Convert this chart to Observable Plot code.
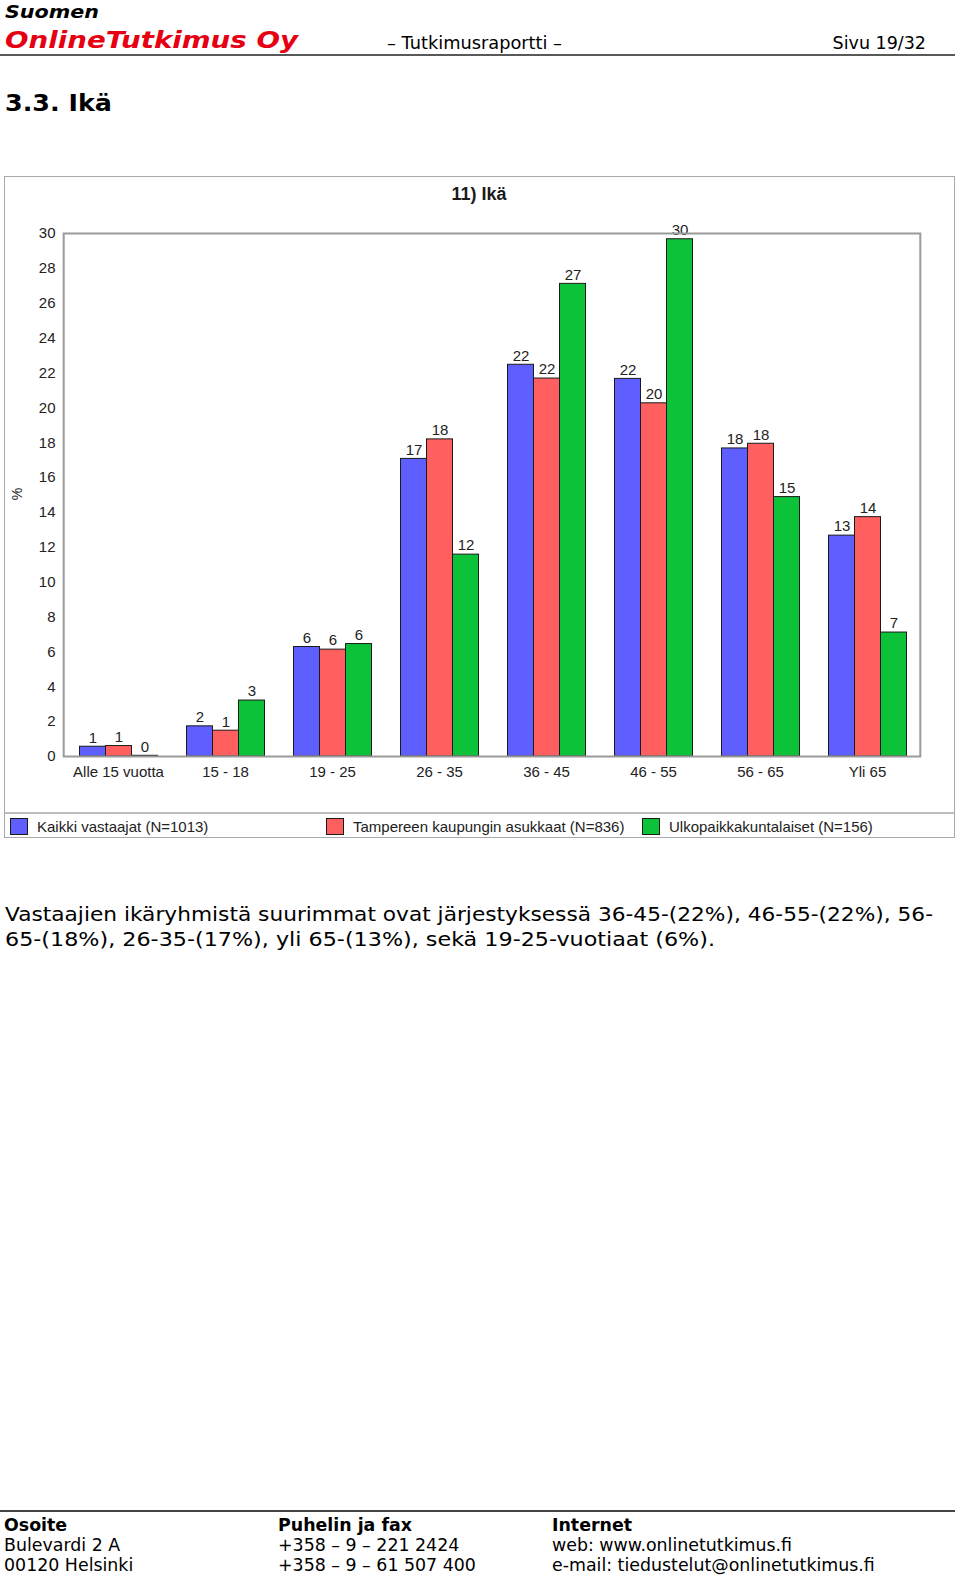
<!DOCTYPE html>
<html>
<head>
<meta charset="utf-8">
<script src="https://cdn.jsdelivr.net/npm/d3@7"></script>
<script src="https://cdn.jsdelivr.net/npm/@observablehq/plot@0.6"></script>
<style>
  html, body { margin: 0; padding: 0; background: #fff; }
  #page { position: relative; width: 960px; height: 1576px; overflow: hidden; }
  #static { position: absolute; left: 0; top: 0; }
  #chartbox { position: absolute; left: 4px; top: 176px; width: 951px; height: 662px;
    border: 1px solid #a9a9a9; box-sizing: border-box; background: #fff; }
  #plot { position: absolute; left: 0; top: 0; }
  #overlay { position: absolute; left: 0; top: 0; pointer-events: none; }
</style>
</head>
<body>
<div id="page">
  <svg id="static" width="960" height="1576" font-family="'DejaVu Sans', Verdana, sans-serif"></svg>
  <div id="chartbox">
    <div id="plot"></div>
    <svg id="overlay" width="949" height="660" font-family="'Liberation Sans', Arial, sans-serif"></svg>
  </div>
</div>
<script>
// ---------- data ----------
const chartTitle = "11) Ikä";
const yAxisLabel = "%";
const categories = ["Alle 15 vuotta", "15 - 18", "19 - 25", "26 - 35", "36 - 45", "46 - 55", "56 - 65", "Yli 65"];
const seriesNames = ["Kaikki vastaajat (N=1013)", "Tampereen kaupungin asukkaat (N=836)", "Ulkopaikkakuntalaiset (N=156)"];
const seriesColors = ["#5f5fff", "#ff5f5f", "#0cc238"];
const kaikkiValues  = [0.56, 1.73, 6.28, 17.07, 22.47, 21.66, 17.67, 12.67];
const tampereValues = [0.60, 1.48, 6.13, 18.19, 21.68, 20.26, 17.94, 13.73];
const ulkoValues    = [0.04, 3.21, 6.45, 11.58, 27.11, 29.67, 14.88, 7.11];
const kaikkiLabels  = ["1", "2", "6", "17", "22", "22", "18", "13"];
const tampereLabels = ["1", "1", "6", "18", "22", "20", "18", "14"];
const ulkoLabels    = ["0", "3", "6", "12", "27", "30", "15", "7"];
const yTicks = [0, 2, 4, 6, 8, 10, 12, 14, 16, 18, 20, 22, 24, 26, 28, 30];

const headerSmall = "Suomen";
const headerBrand = "OnlineTutkimus Oy";
const headerMiddle = "– Tutkimusraportti –";
const headerPage = "Sivu 19/32";
const sectionTitle = "3.3. Ikä";
const paragraphLines = [
  "Vastaajien ikäryhmistä suurimmat ovat järjestyksessä 36-45-(22%), 46-55-(22%), 56-",
  "65-(18%), 26-35-(17%), yli 65-(13%), sekä 19-25-vuotiaat (6%)."
];
const footerColumns = [
  ["Osoite", "Bulevardi 2 A", "00120 Helsinki"],
  ["Puhelin ja fax", "+358 – 9 – 221 2424", "+358 – 9 – 61 507 400"],
  ["Internet", "web: www.onlinetutkimus.fi", "e-mail: tiedustelut@onlinetutkimus.fi"]
];

// ---------- table ----------
const seriesValues = [kaikkiValues, tampereValues, ulkoValues];
const seriesLabels = [kaikkiLabels, tampereLabels, ulkoLabels];
const rows = [];
categories.forEach((cat, i) => {
  seriesNames.forEach((s, j) => {
    rows.push({cat, series: s, value: seriesValues[j][i], label: seriesLabels[j][i]});
  });
});

// ---------- chart ----------
const chart = Plot.plot({
  width: 949,
  height: 632,
  marginLeft: 72.5,
  marginRight: 46,
  marginTop: 56,
  marginBottom: 53,
  style: {fontFamily: "'Liberation Sans', Arial, sans-serif", fontSize: "15px", color: "#222", background: "transparent", overflow: "visible"},
  fx: {domain: categories, paddingInner: 0.25, paddingOuter: 0, label: null, axis: "bottom", tickSize: 0, tickPadding: 10},
  x: {domain: seriesNames, axis: null, padding: 0},
  y: {domain: [0, 30], ticks: yTicks, tickSize: 0, tickPadding: 23, label: null, tickFormat: d => String(d)},
  color: {domain: seriesNames, range: seriesColors},
  marks: [
    Plot.barY(rows, {fx: "cat", x: "series", y: "value", fill: "series", stroke: "#1a1a1a", strokeWidth: 1}),
    Plot.text(rows, {fx: "cat", x: "series", y: "value", text: "label", dy: -9, fontSize: 15, fill: "#222"}),
    Plot.frame({facet: "super", stroke: "#9a9a9a", strokeWidth: 2, insetLeft: -14.8, insetRight: -12.8})
  ]
});
document.getElementById("plot").appendChild(chart);

// ---------- chart overlay: title, % label, legend ----------
const ov = d3.select("#overlay");
ov.append("text").attr("x", 474).attr("y", 23).attr("text-anchor", "middle")
  .attr("font-weight", "bold").attr("font-size", 18).attr("fill", "#1a1a1a").text(chartTitle);
ov.append("text").attr("transform", "translate(17,317) rotate(-90)").attr("text-anchor", "middle")
  .attr("font-size", 14).attr("fill", "#222").text(yAxisLabel);
ov.append("line").attr("x1", 0).attr("x2", 949).attr("y1", 636).attr("y2", 636)
  .attr("stroke", "#a9a9a9").attr("stroke-width", 1.5);
const legendX = [5, 321, 637];
seriesNames.forEach((s, j) => {
  const g = ov.append("g").attr("transform", `translate(${legendX[j]},641)`);
  g.append("rect").attr("x", 0.5).attr("y", 0.5).attr("width", 17).attr("height", 16)
    .attr("fill", seriesColors[j]).attr("stroke", "#1a1a1a").attr("stroke-width", 1);
  g.append("text").attr("x", 27).attr("y", 13.5).attr("font-size", 15).attr("fill", "#222").text(s);
});

// ---------- page texts ----------
const st = d3.select("#static");
function txt(str, x, y, opts = {}) {
  const t = st.append("text").attr("x", x).attr("y", y)
    .attr("font-size", opts.size || 17).attr("fill", opts.fill || "#000").text(str);
  if (opts.bold) t.attr("font-weight", "bold");
  if (opts.italic) t.attr("font-style", "italic");
  if (opts.anchor) t.attr("text-anchor", opts.anchor);
  if (opts.len) t.attr("textLength", opts.len).attr("lengthAdjust", "spacingAndGlyphs");
  return t;
}
txt(headerSmall, 5, 17.5, {size: 18, bold: true, italic: true, len: 94});
txt(headerBrand, 5, 48.3, {size: 23, bold: true, italic: true, fill: "#e60012", len: 293});
txt(headerMiddle, 387, 49, {size: 17, len: 175});
txt(headerPage, 926, 49, {size: 17.5, anchor: "end"});
st.append("line").attr("x1", 0).attr("x2", 955).attr("y1", 55).attr("y2", 55)
  .attr("stroke", "#222").attr("stroke-width", 1.5);
txt(sectionTitle, 5, 111, {size: 23, bold: true, len: 107});
txt(paragraphLines[0], 5, 920.5, {size: 19, len: 928});
txt(paragraphLines[1], 5, 945.5, {size: 19, len: 710});
st.append("line").attr("x1", 0).attr("x2", 955).attr("y1", 1511).attr("y2", 1511)
  .attr("stroke", "#444").attr("stroke-width", 2);
const footX = [4, 278, 552];
footerColumns.forEach((col, c) => {
  col.forEach((line, r) => {
    txt(line, footX[c], 1531 + r * 20, {size: 17.4, bold: r === 0});
  });
});
</script>
</body>
</html>
